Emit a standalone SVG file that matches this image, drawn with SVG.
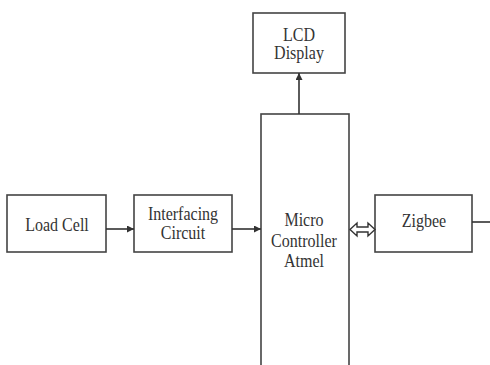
<svg xmlns="http://www.w3.org/2000/svg" width="490" height="365" viewBox="0 0 490 365">
<defs>
<marker id="ah" viewBox="0 0 10 10" refX="10" refY="5" markerWidth="7" markerHeight="7" markerUnits="userSpaceOnUse" orient="auto">
<path d="M0,0 L10,5 L0,10 z" fill="#333"/>
</marker>
<style>
.box{fill:#fff;stroke:#444;stroke-width:1.6}
.t{font-family:"Liberation Serif","Times New Roman",serif;font-size:18px;fill:#333;text-anchor:middle}
.c{stroke:#333;stroke-width:1.6;fill:none}
</style>
</defs>
<rect width="490" height="365" fill="#fff"/>
<g id="load-cell">
<rect class="box" x="7" y="195" width="99" height="57"/>
<text class="t" transform="translate(57,231) scale(0.89,1)">Load Cell</text>
</g>
<g id="interfacing">
<rect class="box" x="134" y="195" width="98" height="57"/>
<text class="t" transform="translate(183,219.5) scale(0.89,1)">Interfacing</text>
<text class="t" transform="translate(183,239) scale(0.89,1)">Circuit</text>
</g>
<g id="lcd">
<rect class="box" x="253" y="13" width="92" height="60"/>
<text class="t" transform="translate(299,40.5) scale(0.89,1)">LCD</text>
<text class="t" transform="translate(299,58.5) scale(0.89,1)">Display</text>
</g>
<g id="mcu">
<rect class="box" x="261" y="114" width="88" height="260"/>
<text class="t" transform="translate(304,226) scale(0.89,1)">Micro</text>
<text class="t" transform="translate(304,247) scale(0.89,1)">Controller</text>
<text class="t" transform="translate(304,267) scale(0.89,1)">Atmel</text>
</g>
<g id="zigbee">
<rect class="box" x="375" y="195" width="97" height="57"/>
<text class="t" transform="translate(424,227) scale(0.89,1)">Zigbee</text>
</g>
<g id="connectors">
<line class="c" x1="106" y1="229" x2="134" y2="229" marker-end="url(#ah)"/>
<line class="c" x1="232" y1="229" x2="261" y2="229" marker-end="url(#ah)"/>
<line class="c" x1="299" y1="114" x2="299" y2="73" marker-end="url(#ah)"/>
<line class="c" x1="472" y1="222" x2="490" y2="222"/>
<path d="M350,229.5 L357,223 L357,227 L368,227 L368,223 L375,229.5 L368,236 L368,232 L357,232 L357,236 Z" fill="#fff" stroke="#333" stroke-width="1.4" stroke-linejoin="miter"/>
</g>
</svg>
